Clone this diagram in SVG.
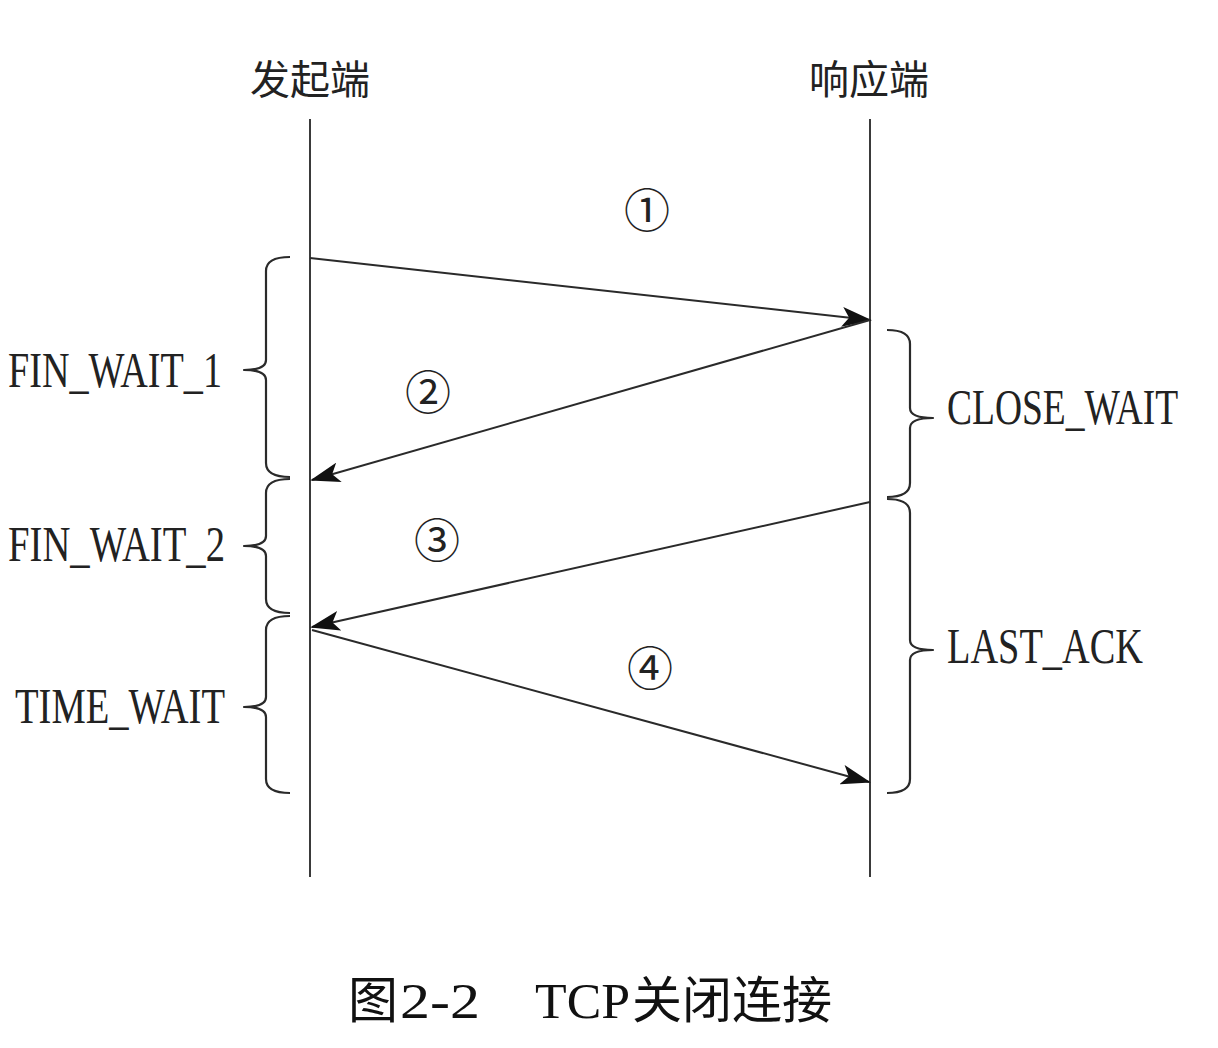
<svg xmlns="http://www.w3.org/2000/svg" width="1218" height="1048" viewBox="0 0 1218 1048">
<style>
.life{stroke:#3a3a3a;stroke-width:2;fill:none}
.msg{stroke:#2a2a2a;stroke-width:2;fill:none;marker-end:url(#ah)}
.brace{stroke:#2a2a2a;stroke-width:2.2;fill:none;stroke-linejoin:round}
.st{font-family:"Liberation Serif",serif;font-size:50px;fill:#222}
.hd{font-family:"Noto Sans CJK SC",sans-serif;font-size:40px;fill:#222;text-anchor:middle}
.num{font-family:"Noto Sans CJK SC",sans-serif;font-size:46px;fill:#222;text-anchor:middle}
.cap{font-size:50px;fill:#111}
</style>
<defs>
<marker id="ah" markerUnits="userSpaceOnUse" markerWidth="30" markerHeight="20" viewBox="0 0 30 20" refX="28" refY="10" orient="auto">
<path d="M0,0 L30,10 L0,20 L7,10 Z" fill="#111"/>
</marker>
</defs>
<rect width="1218" height="1048" fill="#fff"/>
<g id="initiator">
<text class="hd" x="310" y="94">发起端</text>
<line class="life" x1="310" y1="119" x2="310" y2="877"/>
</g>
<g id="responder">
<text class="hd" x="869" y="94">响应端</text>
<line class="life" x1="870" y1="119" x2="870" y2="877"/>
</g>
<g id="connectors">
<path class="msg" d="M310,258 L870,320"/>
<path class="msg" d="M870,320 L312,480"/>
<path class="msg" d="M870,502 L312,627"/>
<path class="msg" d="M312,630 L869,782"/>
<text class="num" x="647" y="227">①</text>
<text class="num" x="428" y="409">②</text>
<text class="num" x="437" y="557">③</text>
<text class="num" x="650" y="685">④</text>
</g>
<g id="fin_wait_1">
<path class="brace" d="M290,257 Q266,257 266,271 L266,360 Q266,370 244,370 Q266,370 266,380 L266,463 Q266,477 290,477"/>
<text class="st" x="8" y="387" textLength="214" lengthAdjust="spacingAndGlyphs">FIN_WAIT_1</text>
</g>
<g id="fin_wait_2">
<path class="brace" d="M290,479 Q266,479 266,493 L266,536 Q266,546 244,546 Q266,546 266,556 L266,599 Q266,613 290,613"/>
<text class="st" x="8" y="561" textLength="217" lengthAdjust="spacingAndGlyphs">FIN_WAIT_2</text>
</g>
<g id="time_wait">
<path class="brace" d="M290,616 Q266,616 266,630 L266,697 Q266,707 244,707 Q266,707 266,717 L266,779 Q266,793 290,793"/>
<text class="st" x="15" y="723" textLength="210" lengthAdjust="spacingAndGlyphs">TIME_WAIT</text>
</g>
<g id="close_wait">
<path class="brace" d="M887,330 Q910,330 910,344 L910,408 Q910,418 933,418 Q910,418 910,428 L910,483 Q910,497 887,497"/>
<text class="st" transform="translate(947,424) scale(0.75,1)" x="0" y="0">CLOSE_WAIT</text>
</g>
<g id="last_ack">
<path class="brace" d="M887,499 Q910,499 910,513 L910,640 Q910,650 933,650 Q910,650 910,660 L910,779 Q910,793 887,793"/>
<text class="st" x="947" y="663" textLength="196" lengthAdjust="spacingAndGlyphs">LAST_ACK</text>
</g>
<g id="caption">
<text class="cap" y="1018"><tspan x="348" font-family="'Noto Sans CJK SC',sans-serif">图</tspan><tspan x="400" font-family="'Liberation Serif',serif" textLength="80" lengthAdjust="spacingAndGlyphs">2-2</tspan><tspan x="535" font-family="'Liberation Serif',serif" textLength="95" lengthAdjust="spacingAndGlyphs">TCP</tspan><tspan x="632" font-family="'Noto Sans CJK SC',sans-serif">关闭连接</tspan></text>
</g>
</svg>
